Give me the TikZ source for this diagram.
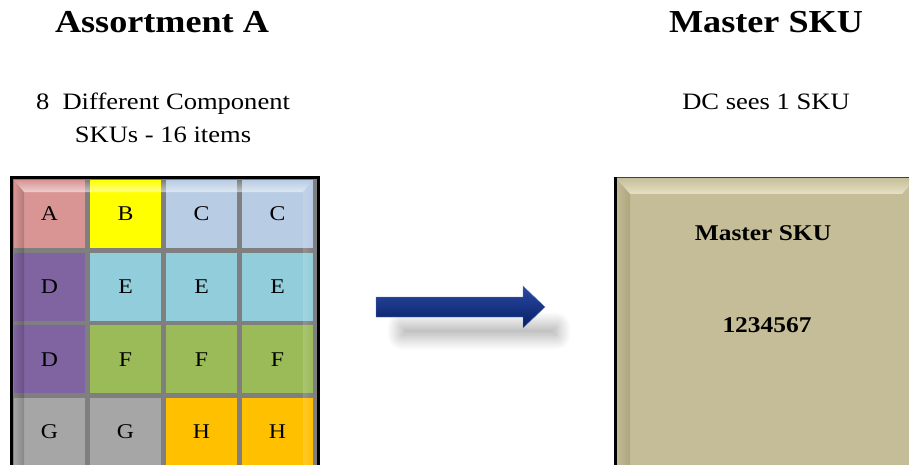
\documentclass[tikz,border=0pt]{standalone}
\usepackage{fontspec}
\setmainfont[FakeStretch=1.13]{Liberation Serif}
\usetikzlibrary{shadows.blur,fadings}

\definecolor{cellA}{HTML}{D99594}
\definecolor{cellB}{HTML}{FFFF00}
\definecolor{cellC}{HTML}{B8CCE4}
\definecolor{cellD}{HTML}{8064A2}
\definecolor{cellE}{HTML}{92CDDC}
\definecolor{cellF}{HTML}{9BBB59}
\definecolor{cellG}{HTML}{A6A6A6}
\definecolor{cellH}{HTML}{FFC000}
\definecolor{gridgrey}{HTML}{7F7F7F}
\definecolor{tan}{HTML}{C4BD97}
\definecolor{tanlight}{HTML}{E6E1C6}
\definecolor{tandark}{HTML}{9E9770}
\definecolor{navytop}{RGB}{44,74,164}
\definecolor{navybot}{RGB}{4,30,100}

\tikzset{
  heading/.style={font=\fontsize{32}{36}\selectfont\bfseries, inner sep=0pt},
  subhead/.style={font=\fontsize{23.5}{33}\selectfont, align=center, inner sep=0pt},
  cell/.style={minimum width=71pt, minimum height=68pt, inner sep=0pt,
               font=\fontsize{21}{24}\selectfont},
  frame/.style={draw=black, line width=2.5pt, fill=gridgrey, inner sep=0pt},
  skubox/.style={fill=tan, inner sep=0pt},
  boxtext/.style={font=\fontsize{22.5}{26}\selectfont\bfseries, inner sep=0pt},
}

\begin{document}
\begin{tikzpicture}[x=1pt,y=-1pt]
\useasboundingbox (0,0) rectangle (909,465);
\clip (0,0) rectangle (909,465);

% headings
\node[heading] (titleA) at (162,22) {Assortment A};
\node[subhead] (subA) at (163,118) {8\ \ Different Component\\SKUs - 16 items};
\node[heading] (titleM) at (766,22) {Master SKU};
\node[subhead] (subM) at (766,102) {DC sees 1 SKU};

% assortment grid
\node[frame, minimum width=307pt, minimum height=300pt, anchor=north west]
  (assort) at (10,176) {};
\foreach \lab/\col [count=\i from 0] in
  {A/cellA, B/cellB, C/cellC, C/cellC,
   D/cellD, E/cellE, E/cellE, E/cellE,
   D/cellD, F/cellF, F/cellF, F/cellF,
   G/cellG, G/cellG, H/cellH, H/cellH} {
  \pgfmathtruncatemacro{\r}{div(\i,4)}
  \pgfmathtruncatemacro{\c}{mod(\i,4)}
  \node[cell, fill=\col] (cell\i) at ({49.5+76*\c},{214+72.7*\r}) {\lab};
}
% bevel highlights on the grid
\fill[white, opacity=0.55, path fading=north]
  (14,180) -- (313,180) -- (303,192) -- (24,192) -- cycle;
\fill[black, opacity=0.18, path fading=west]
  (14,180) -- (24,192) -- (24,470) -- (14,470) -- cycle;
\fill[white, opacity=0.15, path fading=east]
  (313,180) -- (313,470) -- (303,470) -- (303,192) -- cycle;

% master SKU box
\node[skubox, minimum width=302pt, minimum height=300pt, anchor=north west]
  (master) at (615,177) {};
\fill[tanlight, path fading=north]
  (615,177) -- (917,177) -- (902,194) -- (630,194) -- cycle;
\fill[tandark, opacity=0.6, path fading=west]
  (615,177) -- (630,194) -- (630,470) -- (615,470) -- cycle;
\draw[black!75, line width=1pt] (master.south west) -- (master.north west) -- (master.north east);
\draw[black, line width=3pt] (master.north west) -- (master.south west);
\node[boxtext] (mlabel) at (763,233) {Master SKU};
\node[boxtext] (mnumber) at (767,325) {1234567};

% soft shadow under the block arrow
\path[blur shadow={shadow xshift=0pt, shadow yshift=0pt,
                   shadow blur radius=15pt, shadow blur steps=25, shadow opacity=38}]
  (402,327) rectangle (556,335);
% block arrow
\path[top color=navytop, bottom color=navybot, draw=navytop!70!white, line width=0.4pt]
  (376,297) -- (523,297) -- (523,286) -- (545,307) -- (523,328)
  -- (523,317) -- (376,317) -- cycle;
\end{tikzpicture}
\end{document}
